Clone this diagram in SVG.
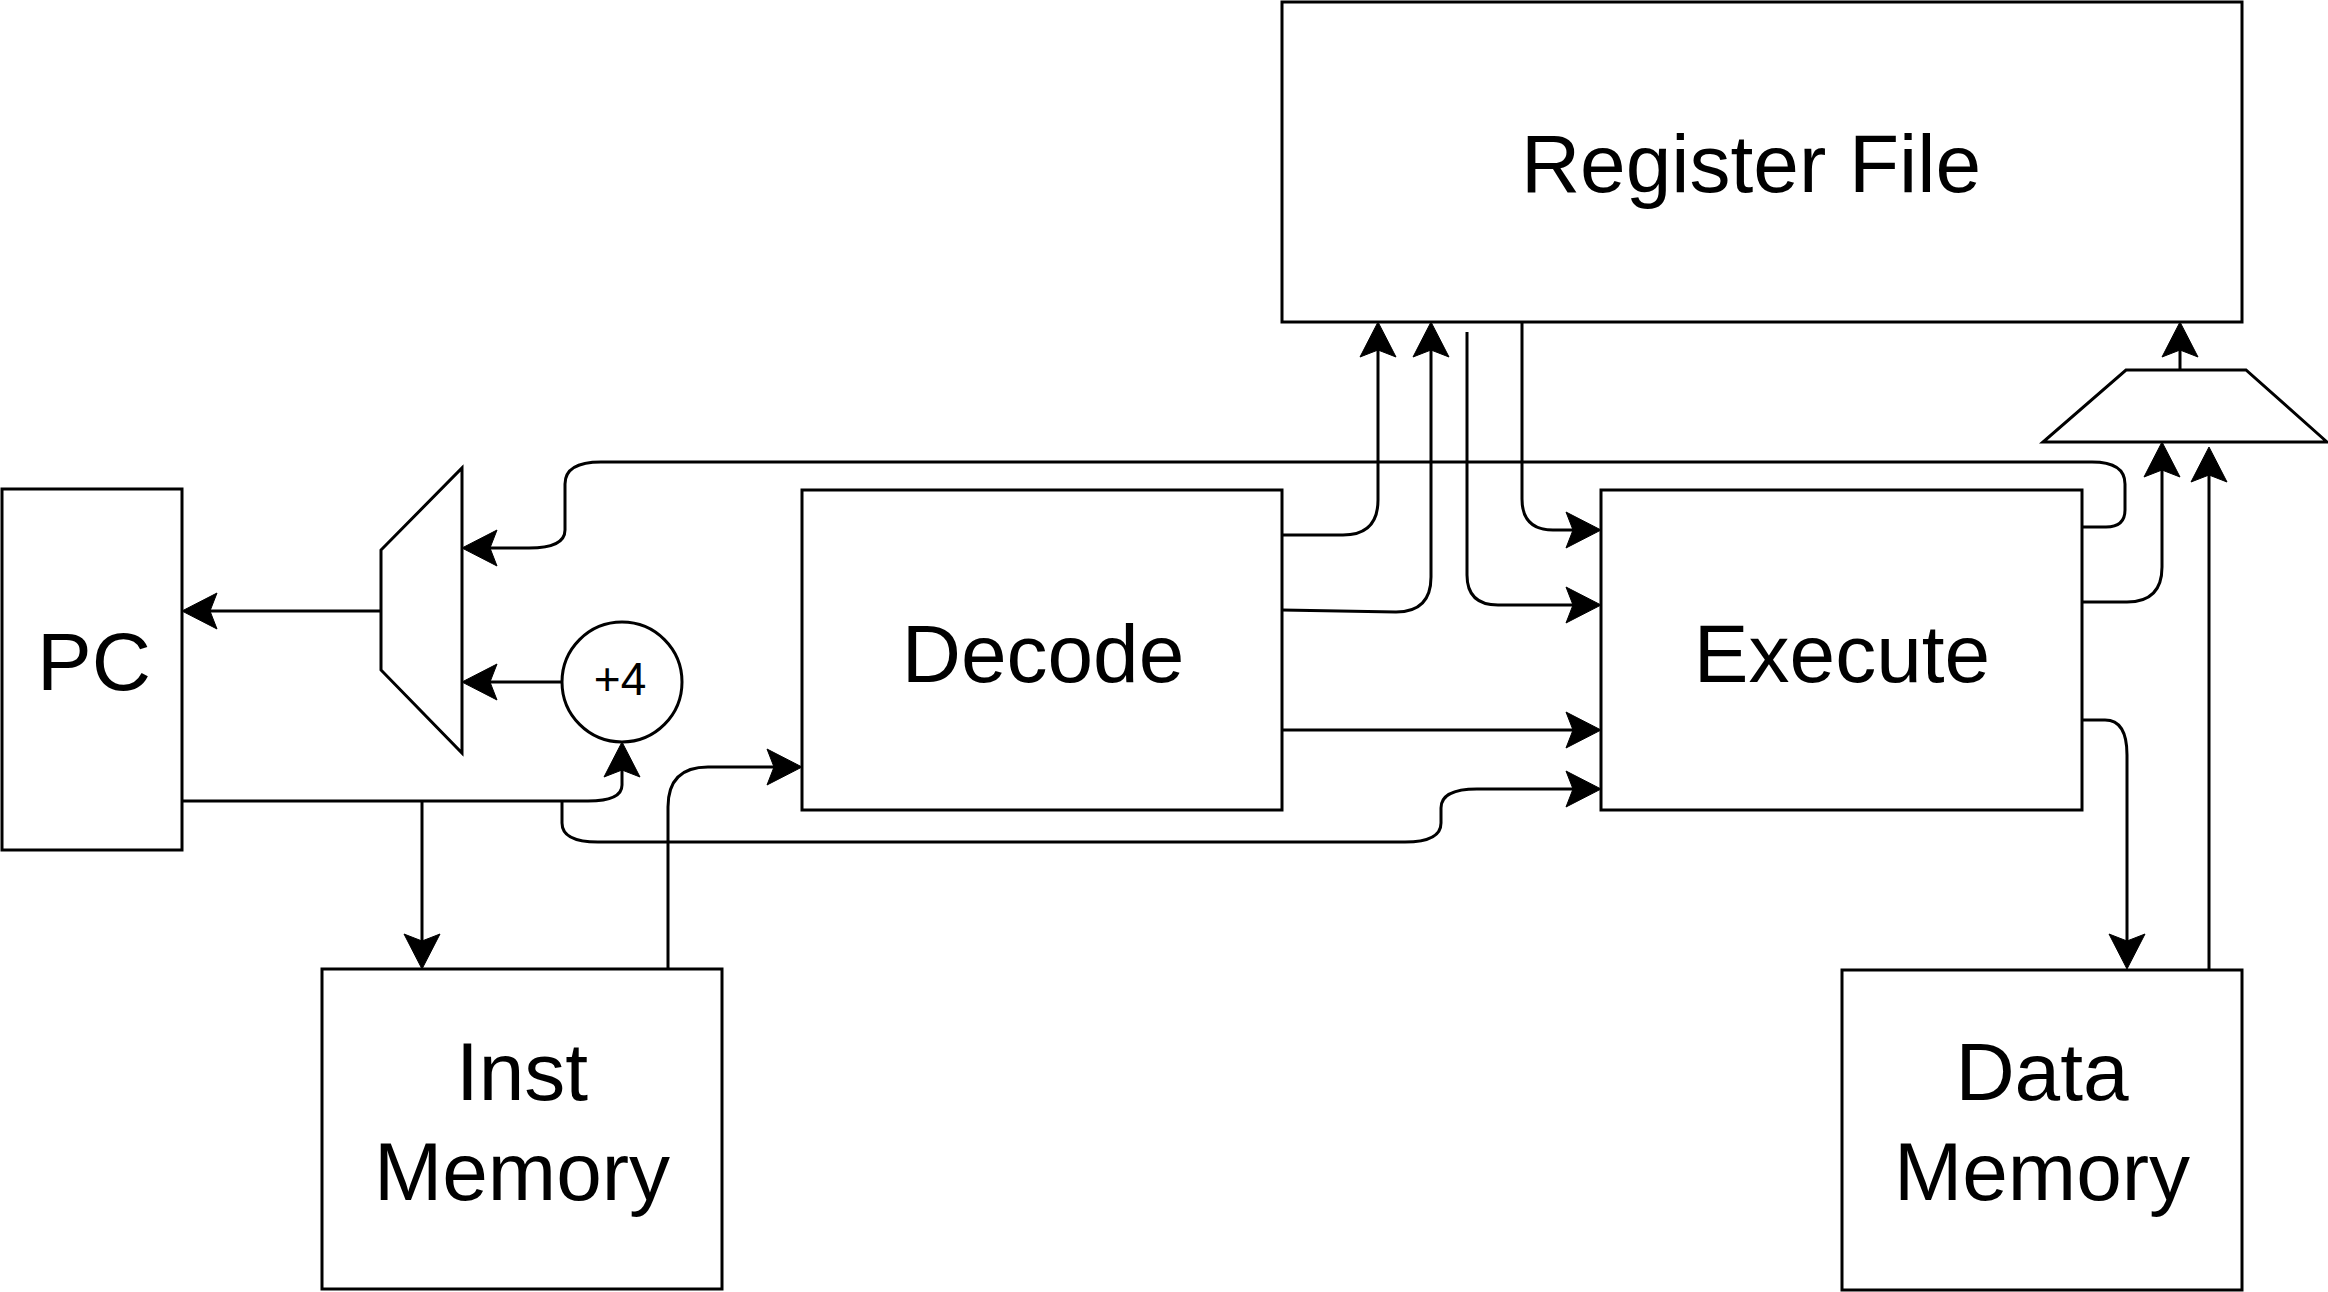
<svg xmlns="http://www.w3.org/2000/svg" width="2328" height="1292" viewBox="0 0 2328 1292">
<style>
.box{fill:#fff;stroke:#000;stroke-width:3}
.lbl{font-family:"Liberation Sans",Arial,Helvetica,sans-serif;font-size:82px;fill:#000;text-anchor:middle}
.small{font-size:46px}
.wire{fill:none;stroke:#000;stroke-width:3}
</style>
<defs>
<marker id="arr" markerUnits="userSpaceOnUse" markerWidth="40" markerHeight="40" viewBox="-8 -20 40 40" refX="0" refY="0" orient="auto" overflow="visible">
<path d="M28,0 L-7,-18 L0,0 L-7,18 Z" fill="#000" stroke="#000" stroke-width="1"/>
</marker>
</defs>
<rect width="2328" height="1292" fill="#fff"/>
<g id="register-file"><rect class="box" x="1282" y="2" width="960" height="320"/><text class="lbl" x="1751" y="192">Register File</text></g>
<g id="pc"><rect class="box" x="2" y="489" width="180" height="361"/><text class="lbl" x="94" y="690">PC</text></g>
<g id="decode"><rect class="box" x="802" y="490" width="480" height="320"/><text class="lbl" x="1043" y="682">Decode</text></g>
<g id="execute"><rect class="box" x="1601" y="490" width="481" height="320"/><text class="lbl" x="1842" y="682">Execute</text></g>
<g id="inst-memory"><rect class="box" x="322" y="969" width="400" height="320"/><text class="lbl" x="522" y="1100">Inst</text><text class="lbl" x="522" y="1200">Memory</text></g>
<g id="data-memory"><rect class="box" x="1842" y="970" width="400" height="320"/><text class="lbl" x="2042" y="1100">Data</text><text class="lbl" x="2042" y="1200">Memory</text></g>
<g id="pc-mux"><polygon class="box" points="462,468 462,753 381,670 381,550"/></g>
<g id="wb-mux"><polygon class="box" points="2126,370 2246,370 2327,442 2043,442"/></g>
<g id="adder"><circle class="box" cx="622" cy="682" r="60"/><text class="lbl small" x="620" y="695">+4</text></g>
<g id="connectors">
<path class="wire" marker-end="url(#arr)" d="M381,611 L210,611"/>
<path class="wire" marker-end="url(#arr)" d="M562,682 L490,682"/>
<path class="wire" marker-end="url(#arr)" d="M2082,527 L2106,527 Q2125,527 2125,510 L2125,484 Q2125,462 2092,462 L601,462 Q565,462 565,484 L565,530 Q565,548 529,548 L490,548"/>
<path class="wire" marker-end="url(#arr)" d="M182,801 L588,801 Q622,801 622,785 L622,770"/>
<path class="wire" marker-end="url(#arr)" d="M422,801 L422,941"/>
<path class="wire" marker-end="url(#arr)" d="M562,801 L562,823 Q562,842 598,842 L1405,842 Q1441,842 1441,823 L1441,808 Q1441,789 1477,789 L1573,789"/>
<path class="wire" marker-end="url(#arr)" d="M668,969 L668,807 Q668,767 708,767 L774,767"/>
<path class="wire" marker-end="url(#arr)" d="M1282,730 L1573,730"/>
<path class="wire" marker-end="url(#arr)" d="M1282,535 L1343,535 Q1378,535 1378,500 L1378,350"/>
<path class="wire" marker-end="url(#arr)" d="M1282,610 L1396,612 Q1431,612 1431,577 L1431,350"/>
<path class="wire" marker-end="url(#arr)" d="M1522,322 L1522,499 Q1522,530 1553,530 L1573,530"/>
<path class="wire" marker-end="url(#arr)" d="M1467,332 L1467,575 Q1467,605 1498,605 L1573,605"/>
<path class="wire" marker-end="url(#arr)" d="M2082,602 L2127,602 Q2162,602 2162,567 L2162,470"/>
<path class="wire" marker-end="url(#arr)" d="M2209,970 L2209,475"/>
<path class="wire" marker-end="url(#arr)" d="M2082,720 L2105,720 Q2127,720 2127,755 L2127,941"/>
<path class="wire" marker-end="url(#arr)" d="M2180,370 L2180,350"/>
</g>
</svg>
